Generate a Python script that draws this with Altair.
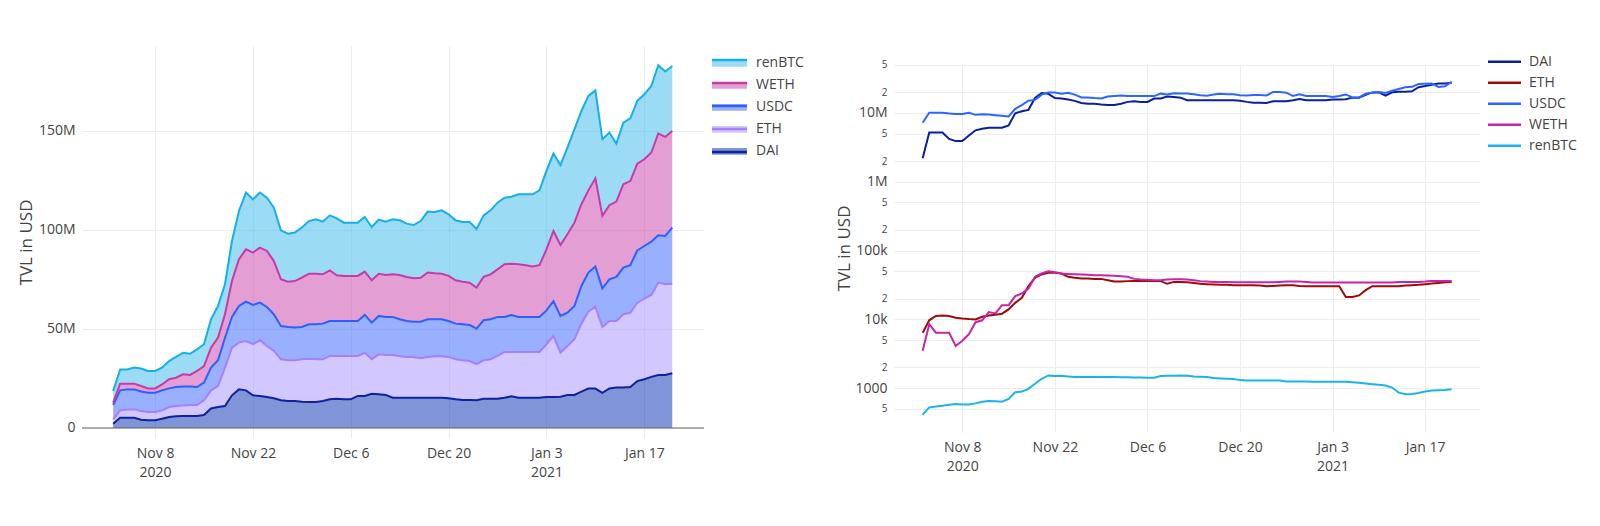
import altair as alt
import pandas as pd

# ---------------- data ----------------
dates = pd.date_range("2020-11-02", periods=81, freq="D").strftime("%Y-%m-%d").tolist()

tokens = ["DAI", "ETH", "USDC", "WETH", "renBTC"]

# Left chart: TVL per token in millions of USD (stacked)
dai_musd = [2.2, 5.2, 5.2, 5.2, 4.2, 3.9, 3.9, 4.7, 5.6, 5.9,
            6.1, 6.1, 6.1, 6.6, 9.9, 10.6, 11.1, 16.5, 19.5, 19.0,
            16.5, 16.2, 15.7, 15.0, 14.0, 13.6, 13.6, 13.3, 13.1, 13.1,
            13.6, 14.5, 14.8, 14.5, 14.5, 16.2, 16.2, 17.3, 17.0, 16.7,
            15.3, 15.3, 15.3, 15.3, 15.3, 15.3, 15.3, 15.3, 15.0, 14.5,
            14.1, 14.1, 14.0, 14.8, 14.8, 14.8, 15.3, 16.0, 15.3, 15.3,
            15.3, 15.3, 15.7, 15.7, 15.8, 16.7, 16.7, 18.4, 19.9, 19.9,
            17.8, 20.0, 20.4, 20.4, 20.7, 23.7, 24.6, 25.8, 26.8, 26.8,
            27.6]
eth_musd = [2.2, 3.7, 4.2, 4.2, 4.4, 4.2, 4.2, 4.2, 5.0, 5.2,
            5.3, 5.5, 5.5, 7.4, 9.1, 10.6, 19.4, 24.1, 23.6, 24.9,
            25.8, 28.1, 25.7, 23.9, 20.7, 20.6, 20.6, 21.4, 21.9, 21.6,
            21.1, 21.9, 21.6, 21.9, 21.9, 20.2, 21.8, 17.4, 20.2, 20.2,
            21.6, 20.9, 20.6, 20.6, 19.9, 20.6, 20.9, 20.9, 20.9, 20.2,
            20.1, 19.7, 18.2, 19.4, 19.9, 21.6, 23.1, 22.4, 23.1, 23.1,
            23.1, 23.1, 26.6, 30.8, 22.2, 24.7, 28.1, 34.3, 38.9, 41.4,
            33.2, 34.0, 33.6, 37.0, 37.5, 39.6, 40.7, 41.4, 46.6, 45.8,
            45.3]
usdc_musd = [7.2, 10.1, 10.1, 10.1, 9.8, 9.7, 9.7, 10.1, 9.4, 9.6,
             9.5, 9.3, 9.1, 8.9, 11.5, 13.0, 15.1, 15.5, 18.5, 19.9,
             19.8, 19.0, 19.7, 18.5, 16.8, 16.8, 16.5, 16.3, 17.4, 17.7,
             18.0, 17.6, 17.6, 17.6, 17.6, 17.6, 19.1, 18.5, 19.4, 19.2,
             19.2, 18.7, 18.1, 17.8, 18.5, 19.0, 18.7, 18.7, 18.1, 18.0,
             18.2, 18.2, 18.0, 20.2, 20.2, 19.7, 17.7, 18.7, 17.7, 17.7,
             17.7, 17.7, 17.1, 17.6, 18.6, 16.8, 16.8, 19.0, 19.7, 20.2,
             19.5, 21.1, 22.3, 23.6, 24.0, 26.4, 26.6, 26.9, 23.9, 24.4,
             28.3]
weth_musd = [1.2, 3.4, 2.9, 2.9, 2.8, 2.2, 2.2, 3.0, 4.6, 4.7,
             6.2, 5.9, 8.1, 8.4, 10.1, 11.4, 11.8, 18.1, 23.6, 26.4,
             26.5, 27.8, 28.3, 26.9, 23.6, 22.9, 23.5, 24.9, 25.5, 25.5,
             24.9, 25.6, 23.1, 22.8, 22.8, 22.8, 21.9, 21.4, 21.3, 21.2,
             21.5, 22.4, 22.3, 21.9, 22.2, 23.6, 23.2, 23.0, 22.8, 21.9,
             21.5, 21.4, 20.7, 21.9, 22.7, 24.0, 26.6, 25.9, 26.6, 26.1,
             25.4, 26.1, 30.8, 35.4, 35.8, 39.6, 42.1, 41.3, 41.5, 44.6,
             36.6, 37.4, 38.0, 42.1, 42.5, 43.8, 43.8, 45.0, 51.4, 50.0,
             48.8]
renbtc_musd = [5.9, 7.2, 7.2, 8.1, 8.8, 8.8, 8.8, 8.5, 9.2, 10.5,
               10.9, 10.7, 10.9, 11.0, 14.3, 16.0, 15.2, 20.2, 24.4, 28.7,
               26.9, 27.8, 26.9, 27.0, 24.7, 24.2, 24.5, 25.3, 26.6, 27.5,
               26.6, 27.8, 28.8, 26.9, 26.9, 26.9, 27.6, 26.9, 27.3, 26.9,
               27.8, 27.6, 26.9, 26.9, 28.6, 30.8, 31.0, 32.0, 31.1, 30.3,
               30.1, 30.6, 29.6, 31.1, 32.3, 33.7, 33.6, 33.8, 35.3, 35.8,
               36.5, 37.8, 39.6, 39.1, 40.4, 43.8, 47.1, 47.1, 47.7, 44.4,
               38.7, 36.7, 29.3, 31.1, 31.7, 31.7, 32.8, 33.6, 34.5, 33.0,
               32.8]

# Right chart (log scale): ETH / WETH in thousands, renBTC in units
eth_k = [6.4, 9.7, 11.2, 11.4, 11.2, 10.6, 10.3, 10.1, 10.0, 10.9,
         11.4, 11.7, 12.1, 14.0, 17.4, 20.6, 30.4, 40.2, 45.0, 47.5,
         47.5, 46.4, 41.6, 40.2, 39.3, 39.3, 38.8, 38.8, 37.1, 35.5,
         35.5, 36.0, 36.3, 36.3, 36.3, 36.3, 36.0, 32.9, 35.1, 35.1,
         34.7, 33.9, 32.9, 32.5, 32.1, 31.8, 31.8, 31.4, 31.4, 31.4,
         31.4, 31.1, 30.4, 30.7, 31.1, 31.4, 31.4, 30.7, 30.4, 30.4,
         30.4, 30.4, 30.4, 30.4, 21.1, 21.1, 22.3, 26.6, 30.4, 30.4,
         30.4, 30.4, 30.4, 31.1, 31.4, 31.8, 32.5, 33.2, 33.9, 34.7,
         35.1]
weth_k = [3.5, 8.5, 6.4, 6.4, 6.4, 4.1, 4.9, 6.1, 9.1, 9.7,
          12.8, 12.2, 16.1, 16.1, 21.8, 23.8, 28.1, 41.6, 46.4, 50.0,
          48.5, 46.4, 45.8, 45.4, 44.9, 44.4, 43.9, 43.9, 43.4, 43.0,
          42.5, 41.6, 38.8, 38.0, 37.6, 37.2, 37.2, 38.0, 38.4, 38.4,
          38.0, 37.2, 36.0, 35.5, 35.1, 35.1, 35.1, 34.7, 34.7, 34.7,
          34.7, 34.7, 34.7, 34.7, 35.1, 35.5, 35.5, 35.5, 35.1, 34.3,
          34.3, 34.3, 34.3, 34.3, 34.3, 34.3, 34.3, 34.3, 34.3, 34.3,
          34.3, 34.3, 35.1, 35.1, 35.1, 35.1, 35.5, 36.3, 36.3, 36.3,
          36.3]
renbtc_units = [410, 526, 544, 556, 575, 588, 582, 582, 602, 637,
                652, 644, 637, 697, 873, 893, 978, 1158, 1371, 1535,
                1501, 1518, 1484, 1451, 1451, 1451, 1451, 1451, 1451, 1451,
                1445, 1440, 1435, 1430, 1425, 1420, 1501, 1518, 1518, 1535,
                1518, 1484, 1468, 1451, 1403, 1387, 1371, 1356, 1311, 1296,
                1296, 1296, 1296, 1296, 1296, 1253, 1253, 1253, 1253, 1239,
                1239, 1239, 1239, 1239, 1239, 1225, 1198, 1171, 1145, 1119,
                1094, 1023, 863, 816, 825, 854, 893, 924, 935, 945,
                967]

# ---------------- tables ----------------
left_series = [dai_musd, eth_musd, usdc_musd, weth_musd, renbtc_musd]
left_rows = []
for k, (tok, arr) in enumerate(zip(tokens, left_series)):
    for d, v in zip(dates, arr):
        left_rows.append({"date": d, "token": tok, "series": tok, "order": k, "value": v})
left_df = pd.DataFrame(left_rows)

right_series = {
    "DAI": [v * 1e6 for v in dai_musd],
    "ETH": [v * 1e3 for v in eth_k],
    "USDC": [v * 1e6 for v in usdc_musd],
    "WETH": [v * 1e3 for v in weth_k],
    "renBTC": renbtc_units,
}
right_rows = []
for tok in tokens:
    for d, v in zip(dates, right_series[tok]):
        right_rows.append({"date": d, "token": tok, "value": v})
right_df = pd.DataFrame(right_rows)

# ---------------- styling ----------------
FONT = "Open Sans"
TXT = "#444444"
GRID = "#ececec"

def dt(y, m, d, h=0, mi=0):
    return alt.DateTime(year=y, month=m, date=d, hours=h, minutes=mi, utc=True)

x_ticks = [dt(2020, 11, 8), dt(2020, 11, 22), dt(2020, 12, 6),
           dt(2020, 12, 20), dt(2021, 1, 3), dt(2021, 1, 17)]
x_label_expr = ("utcFormat(datum.value, '%b %-d') == 'Nov 8' ? ['Nov 8', '2020'] : "
                "(utcFormat(datum.value, '%b %-d') == 'Jan 3' ? ['Jan 3', '2021'] : "
                "utcFormat(datum.value, '%b %-d'))")

def x_axis():
    return alt.Axis(values=x_ticks, labelExpr=x_label_expr, title=None, grid=True,
                    gridColor=GRID, domain=False, ticks=False, labelPadding=8,
                    labelFontSize=14, labelColor=TXT, labelFont=FONT,
                    labelLineHeight=19, labelAngle=0)

# ---------------- left: stacked areas ----------------
legend_order = ["renBTC", "WETH", "USDC", "ETH", "DAI"]
left_fill = ["#37b7e9", "#c73fa9", "#3161fb", "#a78fff", "#002bb1"]
left_line = ["#15b0e8", "#c73aa8", "#2e5ffb", "#a67fff", "#0d21a1"]

x_left = alt.X("date:T",
               scale=alt.Scale(type="utc", domain=[dt(2020, 10, 28, 13), dt(2021, 1, 25, 13)]),
               axis=x_axis())
y_left_axis = alt.Axis(values=[0, 50, 100, 150],
                       labelExpr="datum.value == 0 ? '0' : datum.value + 'M'",
                       title="TVL in USD", titleFontSize=17, titleFont=FONT, titleColor=TXT,
                       titleFontWeight="normal", titlePadding=3, labelPadding=7,
                       labelFontSize=14, labelColor=TXT, labelFont=FONT, grid=True,
                       gridColor=GRID, domain=False, ticks=False)

base = alt.Chart(left_df).transform_stack(
    stack="value", groupby=["date"], as_=["y0", "y1"],
    sort=[alt.SortField(field="order", order="ascending")])

LX, LY = 628, 10
# fill legend (with visible labels)
area = base.mark_area(fillOpacity=0.5, strokeWidth=0).encode(
    x=x_left,
    y=alt.Y("y1:Q", scale=alt.Scale(domain=[-5.05, 192.9], nice=False, zero=False), axis=y_left_axis),
    y2="y0:Q",
    fill=alt.Fill("token:N", scale=alt.Scale(domain=legend_order, range=left_fill),
                  legend=alt.Legend(title=None, orient="none", legendX=LX, legendY=LY,
                                    symbolType="M-1,-0.6L6,-0.6L6,0.75L-1,0.75Z",
                                    symbolSize=100, symbolStrokeWidth=0, symbolOpacity=0.5,
                                    labelOffset=32, labelFontSize=14, labelFont=FONT,
                                    labelColor=TXT, rowPadding=8, padding=0)),
)
# stroke legend drawn over it (no labels), giving the line on top of each swatch
lines_left = base.mark_line(strokeWidth=2).encode(
    x=x_left,
    y=alt.Y("y1:Q"),
    stroke=alt.Stroke("series:N", sort=legend_order, scale=alt.Scale(range=left_line),
                      legend=alt.Legend(title=None, orient="none", legendX=LX, legendY=LY,
                                        symbolType="M-1,-0.6L6,-0.6",
                                        symbolSize=100, symbolStrokeWidth=2.5,
                                        labelExpr="''", labelOffset=32, labelFontSize=14,
                                        labelFont=FONT, labelOpacity=0, rowPadding=8,
                                        padding=0)),
)
zero_rule = alt.Chart(pd.DataFrame({"zero": [0]})).mark_rule(color="#666666", strokeWidth=1).encode(
    y=alt.Y("zero:Q"))

left = alt.layer(area, lines_left, zero_rule).properties(width=622, height=392)

# ---------------- right: log lines ----------------
right_colors = ["#0a1f9f", "#a00a0a", "#2d66ff", "#c724aa", "#1ab4ec"]
log_ticks = [500, 1000, 2000, 5000, 10000, 20000, 50000, 100000, 200000, 500000,
             1000000, 2000000, 5000000, 10000000, 20000000, 50000000]
major_test = ("datum.value == 1000 || datum.value == 10000 || datum.value == 100000 || "
              "datum.value == 1000000 || datum.value == 10000000")
y_right_axis = alt.Axis(
    values=log_ticks,
    labelExpr=("datum.value == 1000 ? '1000' : datum.value == 10000 ? '10k' : "
               "datum.value == 100000 ? '100k' : datum.value == 1000000 ? '1M' : "
               "datum.value == 10000000 ? '10M' : slice(toString(datum.value), 0, 1)"),
    labelFontSize={"condition": {"test": major_test, "value": 14}, "value": 10},
    title="TVL in USD", titleFontSize=17, titleFont=FONT, titleColor=TXT,
    titleFontWeight="normal", titlePadding=1, labelPadding=7, labelColor=TXT,
    labelFont=FONT, grid=True, gridColor=GRID, domain=False, ticks=False)

right = alt.Chart(right_df).mark_line(strokeWidth=2).encode(
    x=alt.X("date:T",
            scale=alt.Scale(type="utc", domain=[dt(2020, 10, 28, 16), dt(2021, 1, 25, 7)]),
            axis=x_axis()),
    y=alt.Y("value:Q", scale=alt.Scale(type="log", domain=[231, 51500000], nice=False),
            axis=y_right_axis),
    stroke=alt.Stroke("token:N", scale=alt.Scale(domain=tokens, range=right_colors),
                      legend=alt.Legend(title=None, orient="none", legendX=592, legendY=8.7,
                                        symbolType="M-1,0L5.6,0", symbolSize=100,
                                        symbolStrokeWidth=2.5, labelOffset=29,
                                        labelFontSize=14, labelFont=FONT, labelColor=TXT,
                                        rowPadding=7, padding=0)),
).properties(width=586, height=368)

# invisible spacer that lowers the right panel relative to the left one
spacer = alt.Chart(pd.DataFrame({"s": [0]})).mark_point(opacity=0, size=1).encode(
    x=alt.value(0), y=alt.value(0)).properties(width=1, height=1)
right_block = alt.vconcat(spacer, right, spacing=11)

chart = alt.hconcat(left, right_block, spacing=30).resolve_scale(
    fill="independent", stroke="independent", x="independent", y="independent"
).resolve_legend(fill="independent", stroke="independent").properties(
    padding={"left": 8, "top": 37, "right": 0, "bottom": 0}
).configure(font=FONT).configure_view(stroke="transparent")

chart.save("out.html", embed_options={"renderer": "svg", "actions": False})
